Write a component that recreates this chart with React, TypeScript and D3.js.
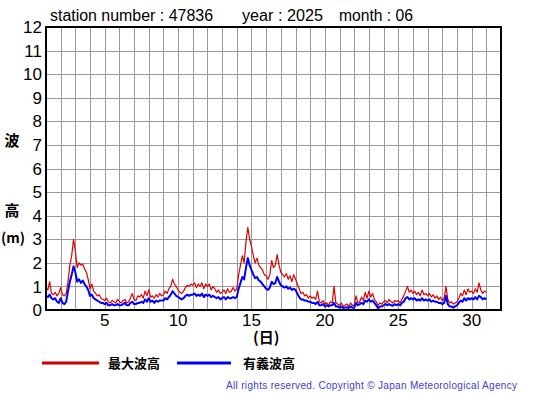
import React from 'react';
import * as d3 from 'd3';

// 3-hourly values (00,03,...,21h) for each day of June, plus the final 24h point
const maxWave = [
  0.95, 0.85, 1.2, 0.7, 0.65, 0.75, 0.6, 0.7,
  0.95, 0.65, 0.6, 0.7, 1.2, 1.9, 2.3, 3.0,
  2.5, 1.8, 2.0, 1.9, 1.95, 1.75, 1.6, 1.3,
  0.9, 1.1, 0.8, 0.7, 0.6, 0.65, 0.5, 0.45,
  0.4, 0.5, 0.35, 0.3, 0.4, 0.35, 0.3, 0.45,
  0.35, 0.3, 0.4, 0.45, 0.3, 0.35, 0.5, 0.7,
  0.45, 0.4, 0.6, 0.55, 0.65, 0.5, 0.8, 0.6,
  0.85, 0.55, 0.6, 0.5, 0.65, 0.55, 0.7, 0.6,
  0.65, 0.8, 0.7, 0.9, 1.0, 1.3, 1.1, 1.0,
  0.85, 0.75, 0.7, 0.8, 0.95, 1.05, 1.0, 1.1,
  1.05, 1.15, 0.95, 1.1, 1.0, 1.15, 0.9, 1.1,
  1.0, 1.1, 0.85, 1.0, 0.9, 0.75, 0.85, 0.7,
  0.75, 0.85, 0.7, 0.9, 0.75, 0.8, 0.95, 0.8,
  0.9, 1.5, 1.9, 2.3, 2.0, 2.9, 3.5, 3.0,
  2.7, 2.3, 2.0, 2.2, 1.9, 1.8, 1.7, 1.5,
  1.45, 1.3, 1.5, 2.1, 1.8, 1.9, 2.35, 1.9,
  1.6, 1.5, 1.4, 1.55, 1.3, 1.45, 1.2, 1.5,
  1.3, 1.1, 0.9, 0.7, 0.75, 0.6, 0.65, 0.5,
  0.6, 0.5, 0.55, 0.45, 0.8, 0.35, 0.3, 0.4,
  0.25, 0.3, 0.2, 0.35, 0.3, 1.0, 0.3, 0.25,
  0.2, 0.3, 0.15, 0.2, 0.25, 0.15, 0.3, 0.2,
  0.2, 0.6, 0.3, 0.35, 0.55, 0.4, 0.75, 0.5,
  0.8, 0.55, 0.7, 0.45, 0.35, 0.2, 0.3, 0.25,
  0.35, 0.4, 0.3, 0.45, 0.35, 0.3, 0.4, 0.35,
  0.4, 0.3, 0.45, 0.6, 0.8, 1.0, 0.75, 0.85,
  0.7, 0.8, 0.65, 0.75, 0.6, 0.85, 0.65, 0.7,
  0.6, 0.7, 0.55, 0.65, 0.5, 0.6, 0.45, 0.55,
  0.4, 0.5, 1.0, 0.45, 0.3, 0.35, 0.25, 0.3,
  0.35, 0.5, 0.7, 0.6, 0.85, 0.65, 0.9, 0.75,
  0.8, 0.7, 0.9, 0.75, 1.15, 0.85, 0.7, 0.8,
  0.75,
];

const sigWave = [
  0.6, 0.55, 0.65, 0.5, 0.45, 0.5, 0.35, 0.3,
  0.5, 0.3, 0.25, 0.35, 0.8, 1.2, 1.5, 1.85,
  1.6, 1.2, 1.3, 1.15, 1.25, 1.1, 1.0, 0.85,
  0.6, 0.65, 0.5, 0.45, 0.4, 0.35, 0.3, 0.3,
  0.25, 0.3, 0.2, 0.2, 0.25, 0.2, 0.2, 0.25,
  0.2, 0.2, 0.25, 0.3, 0.2, 0.2, 0.3, 0.35,
  0.25, 0.25, 0.3, 0.3, 0.35, 0.3, 0.45, 0.35,
  0.5, 0.35, 0.4, 0.3, 0.4, 0.35, 0.4, 0.4,
  0.4, 0.5, 0.45, 0.55, 0.65, 0.8, 0.7, 0.6,
  0.55, 0.5, 0.45, 0.5, 0.6, 0.65, 0.6, 0.65,
  0.65, 0.7, 0.6, 0.65, 0.6, 0.7, 0.55, 0.65,
  0.6, 0.65, 0.55, 0.6, 0.55, 0.5, 0.55, 0.45,
  0.5, 0.55, 0.45, 0.55, 0.5, 0.5, 0.55, 0.5,
  0.55, 0.9, 1.15, 1.4, 1.3, 1.8, 2.2, 1.9,
  1.7, 1.5, 1.35, 1.4, 1.25, 1.2, 1.1, 1.0,
  0.9, 0.85, 0.95, 1.2, 1.1, 1.15, 1.4, 1.2,
  1.05, 1.0, 0.95, 1.0, 0.9, 0.95, 0.85, 0.9,
  0.85, 0.7, 0.55, 0.45, 0.45, 0.4, 0.4, 0.35,
  0.35, 0.3, 0.3, 0.25, 0.35, 0.2, 0.2, 0.25,
  0.15, 0.2, 0.15, 0.2, 0.2, 0.3, 0.15, 0.15,
  0.1, 0.15, 0.08, 0.1, 0.12, 0.08, 0.15, 0.1,
  0.1, 0.3, 0.2, 0.25, 0.3, 0.25, 0.4, 0.35,
  0.45, 0.35, 0.4, 0.3, 0.2, 0.08, 0.15, 0.15,
  0.2, 0.25, 0.2, 0.25, 0.2, 0.18, 0.25, 0.2,
  0.25, 0.2, 0.3, 0.35, 0.5, 0.55, 0.45, 0.5,
  0.45, 0.5, 0.4, 0.45, 0.4, 0.5, 0.4, 0.45,
  0.4, 0.45, 0.35, 0.4, 0.35, 0.35, 0.3, 0.3,
  0.25, 0.3, 0.6, 0.25, 0.15, 0.15, 0.1, 0.15,
  0.2, 0.3, 0.4, 0.35, 0.5, 0.4, 0.5, 0.45,
  0.5, 0.45, 0.55, 0.45, 0.6, 0.55, 0.45, 0.5,
  0.45,
];

const xTicks = [5, 10, 15, 20, 25, 30];
const yTicks = d3.range(0, 13);
const dayLines = d3.range(1, 33);
const STEPS_PER_DAY = 8;

const W = 555;
const H = 395;
const left = 46;
const right = 501;
const top = 27;
const bottom = 310;

const latin = '"Liberation Sans", Arial, sans-serif';
const cjk = '"Noto Sans CJK JP", sans-serif';

export default function App() {
  const x = d3.scaleLinear().domain([1, 32]).range([left, right]);
  const y = d3.scaleLinear().domain([0, 12]).range([bottom, top]);

  const line = d3.line<number>()
    .x((_, i) => x(1 + i / STEPS_PER_DAY))
    .y(d => y(d));

  return (
    <svg width={W} height={H} style={{ position: 'absolute', left: 0, top: 0, background: '#fff' }}>
      <text x={50} y={21} fontFamily={latin} fontSize={16} fill="#000" textLength={163} lengthAdjust="spacingAndGlyphs">station number : 47836</text>
      <text x={242} y={21} fontFamily={latin} fontSize={16} fill="#000" textLength={81} lengthAdjust="spacingAndGlyphs">year : 2025</text>
      <text x={339} y={21} fontFamily={latin} fontSize={16} fill="#000" textLength={74} lengthAdjust="spacingAndGlyphs">month : 06</text>

      {/* grid */}
      <g stroke="#999" strokeWidth={1} shapeRendering="crispEdges">
        {dayLines.map(d => (
          <line key={'v' + d} x1={Math.round(x(d)) + 0.5} x2={Math.round(x(d)) + 0.5} y1={top} y2={bottom} />
        ))}
        {yTicks.map(t => (
          <line key={'h' + t} x1={left} x2={right} y1={Math.round(y(t)) + 0.5} y2={Math.round(y(t)) + 0.5} />
        ))}
      </g>

      {/* data */}
      <path d={line(maxWave) || ''} fill="none" stroke="#dd0000" strokeWidth={1.2} strokeLinejoin="round" />
      <path d={line(sigWave) || ''} fill="none" stroke="#0000ff" strokeWidth={2} strokeLinejoin="round" />

      <rect x={left} y={top} width={right - left} height={bottom - top} fill="none" stroke="#000" strokeWidth={2} />

      {/* y axis labels */}
      {yTicks.map(t => (
        <text key={'yl' + t} x={42} y={y(t)} dy="0.36em" textAnchor="end" fontFamily={latin} fontSize={17} fill="#000">{t}</text>
      ))}
      {/* x axis labels */}
      {xTicks.map(t => (
        <text key={'xl' + t} x={x(t)} y={326} textAnchor="middle" fontFamily={latin} fontSize={17} fill="#000">{t}</text>
      ))}
      <text x={x(16)} y={343} textAnchor="middle" fontFamily={cjk} fontSize={15} fontWeight="bold" fill="#000">(日)</text>

      <text x={12} y={146} textAnchor="middle" fontFamily={cjk} fontSize={15} fontWeight="bold" fill="#000">波</text>
      <text x={12} y={216} textAnchor="middle" fontFamily={cjk} fontSize={15} fontWeight="bold" fill="#000">高</text>
      <text x={13} y={243} textAnchor="middle" fontFamily={cjk} fontSize={14} fontWeight="bold" fill="#000">(m)</text>

      {/* legend */}
      <line x1={42} x2={99} y1={363} y2={363} stroke="#cc0000" strokeWidth={3} />
      <text x={108} y={368} fontFamily={cjk} fontSize={13} fontWeight="bold" fill="#000">最大波高</text>
      <line x1={177} x2={231} y1={363} y2={363} stroke="#0000ff" strokeWidth={3} />
      <text x={243} y={368} fontFamily={cjk} fontSize={13} fontWeight="bold" fill="#000">有義波高</text>

      <text x={226} y={389} fontFamily={latin} fontSize={10} fill="#4040d0" textLength={291} lengthAdjust="spacing">
        All rights reserved. Copyright © Japan Meteorological Agency
      </text>
    </svg>
  );
}
